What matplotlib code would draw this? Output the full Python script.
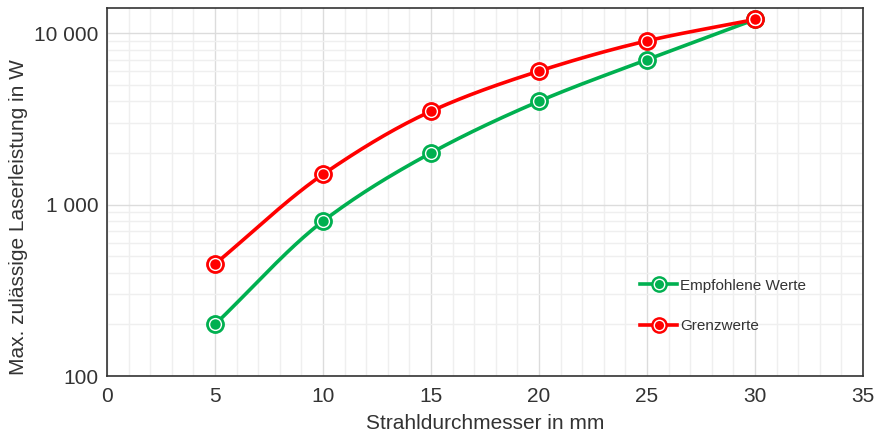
import numpy as np
import matplotlib.pyplot as plt
from matplotlib.lines import Line2D
from matplotlib.ticker import FixedLocator, FuncFormatter, MultipleLocator

# Werte
durchmesser = [5, 10, 15, 20, 25, 30]
empfohlen = [200, 800, 2000, 4000, 7000, 12000]
grenzwerte = [450, 1500, 3500, 6000, 9000, 12000]

gruen = '#00b050'
rot = '#ff0000'


def glatt(x, y, n=40):
    # monotone kubische Hermite-Kurve im log-Raum, nur fuer die Linienform
    x = np.asarray(x, float)
    ly = np.log10(np.asarray(y, float))
    h = np.diff(x)
    d = np.diff(ly) / h
    m = np.zeros_like(ly)
    m[0], m[-1] = d[0], d[-1]
    for i in range(1, len(x) - 1):
        if d[i - 1] * d[i] > 0:
            w1 = 2 * h[i] + h[i - 1]
            w2 = h[i] + 2 * h[i - 1]
            m[i] = (w1 + w2) / (w1 / d[i - 1] + w2 / d[i])
    xs, ys = [], []
    for i in range(len(x) - 1):
        t = np.linspace(0, 1, n)
        h00 = 2 * t**3 - 3 * t**2 + 1
        h10 = t**3 - 2 * t**2 + t
        h01 = -2 * t**3 + 3 * t**2
        h11 = t**3 - t**2
        yy = h00 * ly[i] + h10 * h[i] * m[i] + h01 * ly[i + 1] + h11 * h[i] * m[i + 1]
        xs.append(x[i] + t * h[i])
        ys.append(yy)
    return np.concatenate(xs), 10 ** np.concatenate(ys)


plt.rcParams['font.family'] = ['Liberation Sans', 'DejaVu Sans']
fig = plt.figure(figsize=(8.78, 4.36), dpi=100)
ax = fig.add_axes([0.1219, 0.1376, 0.8611, 0.8441])

handles, labels = [], []
for werte, farbe, name in [(empfohlen, gruen, 'Empfohlene Werte'),
                           (grenzwerte, rot, 'Grenzwerte')]:
    gx, gy = glatt(durchmesser, werte)
    ax.plot(gx, gy, color=farbe, lw=2.6, zorder=3, solid_capstyle='round')
    ax.plot(durchmesser, werte, 'o', ms=12.5, color=farbe, mec=farbe, zorder=4)
    ax.plot(durchmesser, werte, 'o', ms=8.5, color=farbe, mec='white', mew=1.0, zorder=5)
    # Legenden-Handle
    aussen = Line2D([], [], color=farbe, lw=2.6, marker='o', ms=11, mfc=farbe, mec=farbe)
    innen = Line2D([], [], ls='none', marker='o', ms=7.5, mfc=farbe, mec='white', mew=1.0)
    handles.append((aussen, innen))
    labels.append(name)

ax.set_yscale('log')
ax.set_xlim(0, 35)
ax.set_ylim(100, 14000)
ax.xaxis.set_major_locator(MultipleLocator(5))
ax.xaxis.set_minor_locator(MultipleLocator(1))
ax.yaxis.set_major_locator(FixedLocator([100, 1000, 10000]))
ax.yaxis.set_major_formatter(FuncFormatter(lambda v, p: f'{int(v):,}'.replace(',', ' ')))

ax.grid(True, which='major', color='#dcdcdc', lw=1.0)
ax.grid(True, which='minor', color='#efefef', lw=1.0)
ax.set_axisbelow(True)
ax.tick_params(which='both', length=0, labelsize=15, colors='#333333')
ax.tick_params(axis='x', pad=8)
ax.tick_params(axis='y', pad=6)

for s in ax.spines.values():
    s.set_color('#333333')
    s.set_linewidth(1.2)

ax.set_xlabel('Strahldurchmesser in mm', fontsize=15, color='#333333', labelpad=6)
ax.set_ylabel('Max. zulässige Laserleistung in W', fontsize=15, color='#333333')
ax.yaxis.set_label_coords(-0.104, 0.432)

leg = ax.legend(handles, labels, loc='center left', bbox_to_anchor=(0.687, 0.19),
                frameon=False, handlelength=2.4, labelspacing=1.75, handletextpad=0.2,
                fontsize=11)
for t in leg.get_texts():
    t.set_color('#333333')

fig.savefig('out.png', dpi=100)
